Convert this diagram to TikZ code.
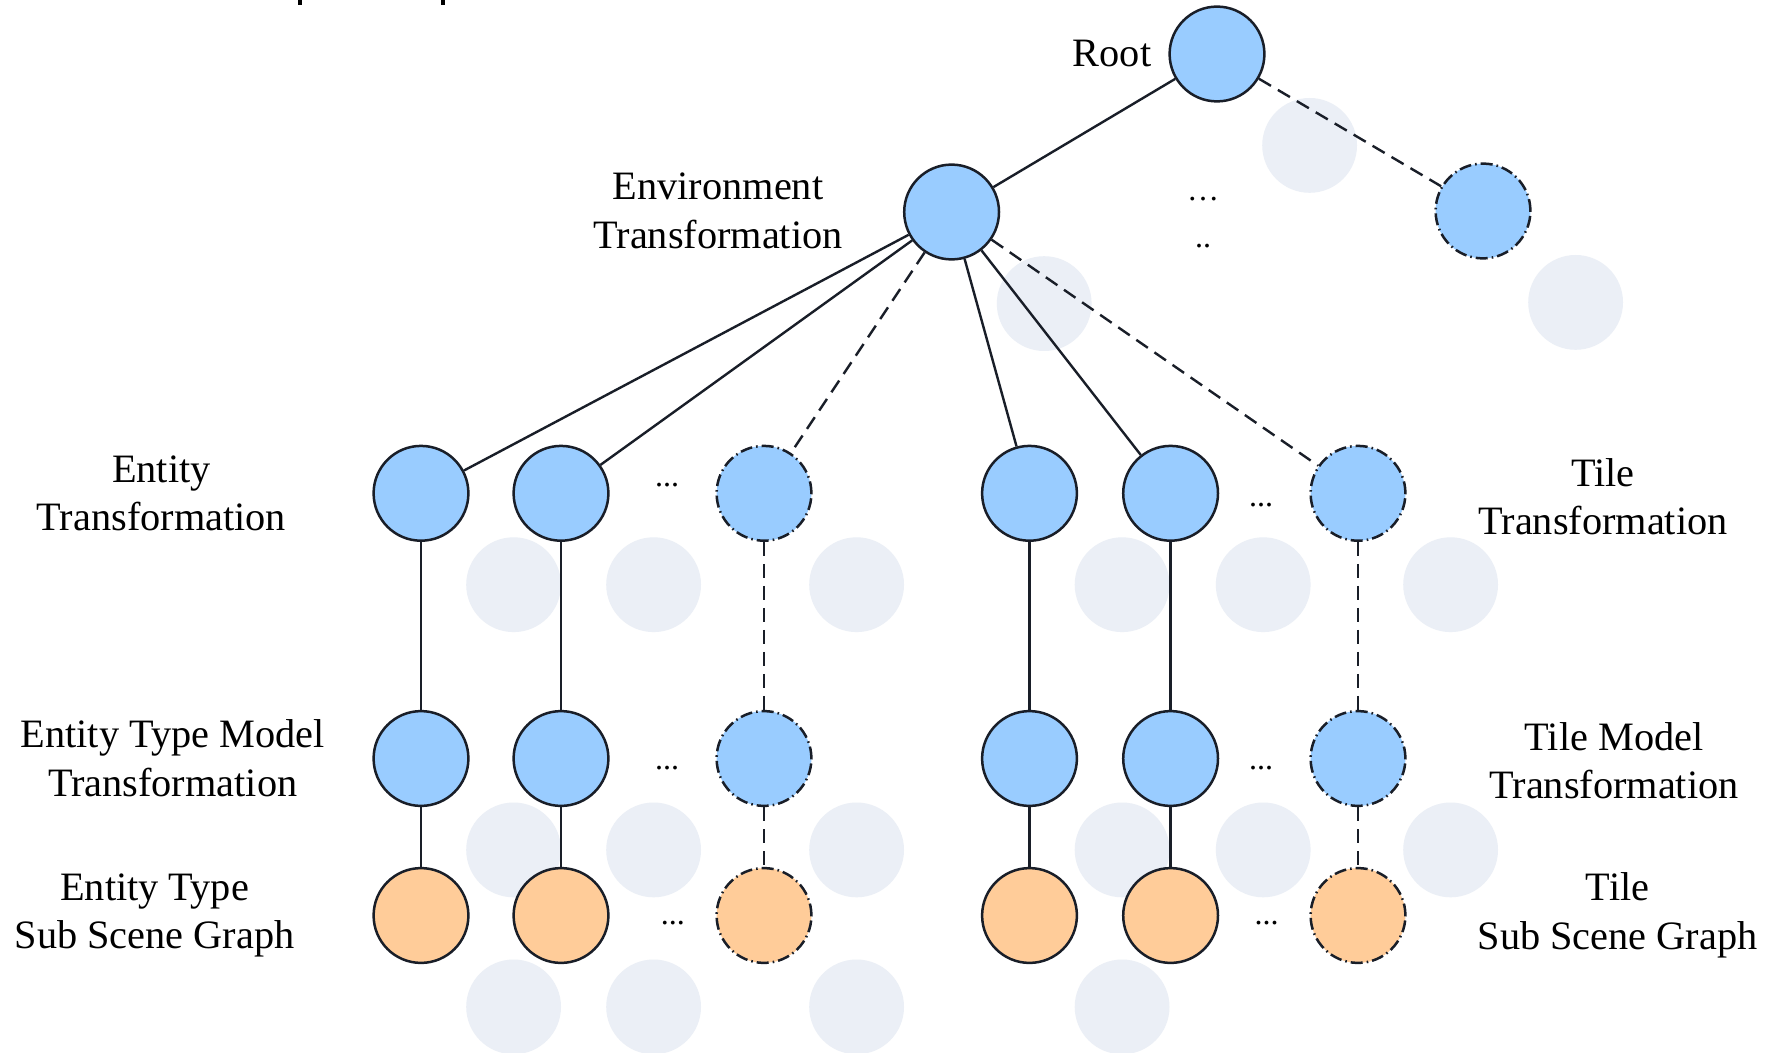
\documentclass[tikz,border=0pt]{standalone}
\usepackage{fontspec}
\setmainfont{Liberation Serif}
\definecolor{nblue}{RGB}{153,204,255}
\definecolor{norange}{RGB}{255,204,153}
\definecolor{shade}{RGB}{235,239,246}
\definecolor{edgec}{RGB}{25,30,40}
\begin{document}
\begin{tikzpicture}[x=0.5pt,y=-0.5pt,
  nd/.style={circle,draw=edgec,line width=1.25pt,minimum size=47.4pt,inner sep=0pt},
  bnode/.style={nd,fill=nblue},
  onode/.style={nd,fill=norange},
  dnode/.style={dash pattern=on 6pt off 2pt on 0.8pt off 2pt},
  shadownode/.style={circle,fill=shade,minimum size=47.4pt,inner sep=0pt},
  lbl/.style={align=center,font=\fontsize{20.15pt}{24.3pt}\selectfont,inner sep=0pt},
  dots/.style={font=\fontsize{16pt}{18pt}\selectfont,inner sep=0pt},
  link/.style={line width=1.2pt,draw=edgec},
  dlink/.style={link,dash pattern=on 7pt off 4pt}]
\useasboundingbox (0,0) rectangle (1770,1053);
\fill[white] (0,0) rectangle (1770,1053);
% cut-off fragments at top
\fill[black] (298,0) rectangle (302,5);
\fill[black] (441,0) rectangle (445,5);
% shadows
\foreach \sx/\sy [count=\i] in {1309.6/145.4,1044.2/303.6,1575.6/302.4,
  513.6/584.7,653.6/584.7,856.6/584.7,1122.1/584.7,1263.2/584.7,1450.6/584.7,
  513.6/849.9,653.6/849.9,856.6/849.9,1122.1/849.9,1263.2/849.9,1450.6/849.9,
  513.6/1006.9,653.6/1006.9,856.6/1006.9,1122.1/1006.9}
  \node[shadownode] (sh\i) at (\sx,\sy) {};
% main nodes
\node[bnode] (root) at (1217,54) {};
\node[bnode] (env) at (951.6,212) {};
\node[bnode,dnode] (rt) at (1483,211) {};
% rows
\node[bnode] (a1) at (421,493.3) {};
\node[bnode] (a2) at (561,493.3) {};
\node[bnode,dnode] (a3) at (764,493.3) {};
\node[bnode] (a4) at (1029.5,493.3) {};
\node[bnode] (a5) at (1170.6,493.3) {};
\node[bnode,dnode] (a6) at (1358,493.3) {};
\node[bnode] (b1) at (421,758.5) {};
\node[bnode] (b2) at (561,758.5) {};
\node[bnode,dnode] (b3) at (764,758.5) {};
\node[bnode] (b4) at (1029.5,758.5) {};
\node[bnode] (b5) at (1170.6,758.5) {};
\node[bnode,dnode] (b6) at (1358,758.5) {};
\node[onode] (c1) at (421,915.5) {};
\node[onode] (c2) at (561,915.5) {};
\node[onode,dnode] (c3) at (764,915.5) {};
\node[onode] (c4) at (1029.5,915.5) {};
\node[onode] (c5) at (1170.6,915.5) {};
\node[onode,dnode] (c6) at (1358,915.5) {};
% connectors
\draw[link] (root) -- (env);
\draw[dlink] (root) -- (rt);
\draw[link] (env) -- (a1);
\draw[link] (env) -- (a2);
\draw[dlink] (env) -- (a3);
\draw[link] (env) -- (a4);
\draw[link] (env) -- (a5);
\draw[dlink] (env) -- (a6);
\foreach \k in {1,2,4,5}{
  \draw[link] (a\k) -- (b\k);
  \draw[link] (b\k) -- (c\k);
}
\foreach \k in {3,6}{
  \draw[dlink] (a\k) -- (b\k);
  \draw[dlink] (b\k) -- (c\k);
}
% ellipses
\node[dots] (d0) at (1203,199) {\ldots};
\node[dots] (d00) at (1203,246) {..};
\node[dots] (d1) at (667,485) {...};
\node[dots] (d2) at (1261,504.6) {...};
\node[dots] (d3) at (667,767.6) {...};
\node[dots] (d4) at (1261,767.6) {...};
\node[dots] (d5) at (672.8,923.4) {...};
\node[dots] (d6) at (1266.5,923.4) {...};
% labels
\node[lbl] (lroot) at (1112,54) {Root};
\node[lbl] (lenv) at (718,211) {Environment\\Transformation};
\node[lbl] (l1) at (161.4,493.3) {Entity\\Transformation};
\node[lbl] (l2) at (1603,496.7) {Tile\\Transformation};
\node[lbl] (l3) at (172.7,758.5) {Entity Type Model\\Transformation};
\node[lbl] (l4) at (1614,760.8) {Tile Model\\Transformation};
\node[lbl] (l5) at (154.6,915.5) {Entity Type\\Sub Scene Graph};
\node[lbl] (l6) at (1617.6,915.5) {Tile\\Sub Scene Graph};
\end{tikzpicture}
\end{document}
